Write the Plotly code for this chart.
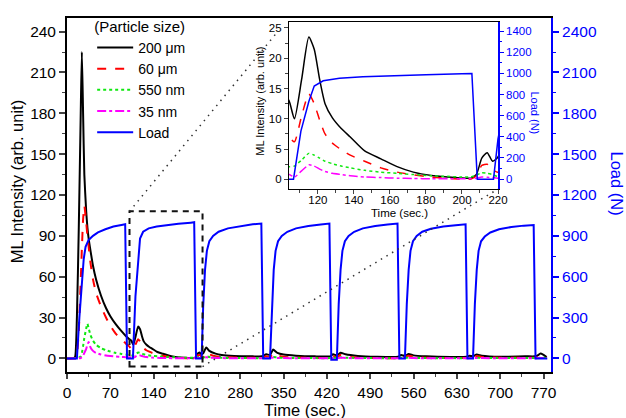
import plotly.graph_objects as go

# ---------------- data ----------------
t_ml = [0, 10, 13, 16, 19, 22, 24, 26, 28, 31,
        33, 35, 38, 42, 47, 55, 63, 70, 79, 88,
        95, 100, 104, 107, 111, 115, 118, 121, 124, 128,
        133, 138, 146, 155, 164, 173, 183, 192, 199, 205,
        208, 211, 214, 217, 220, 225, 230, 240, 250, 270,
        300, 315, 322, 328, 333, 340, 350, 370, 400, 425,
        430, 436, 442, 450, 470, 500, 535, 540, 546, 552,
        560, 580, 620, 646, 650, 656, 662, 670, 700, 740,
        756, 760, 765, 770, 775]

ml_200um = [0, 0, 1, 30, 95, 175, 225, 180, 135, 108,
            96, 88, 79, 68, 58, 46, 37, 31, 25, 20,
            16.5, 14.5, 13, 10, 16.5, 23.5, 21.5, 16.5, 12.5, 10.2,
            8.4, 7, 4.7, 3.4, 2.1, 1.2, 0.65, 0.4, 0.25, 0.2,
            0.8, 3.5, 4.4, 3, 3.7, 8, 5.5, 3.5, 2.5, 1.8,
            1.5, 1.5, 3, 2.5, 6.5, 4, 2.8, 2, 1.5, 1.5,
            3, 2, 4.2, 3, 1.8, 1.2, 1.2, 2.5, 1.8, 3.2,
            2.2, 1.5, 1, 1.2, 2, 1.5, 2.8, 2, 1.2, 1.5,
            1.5, 2, 3.5, 2.5, 1]

ml_60um = [0, 0, 0, 3, 20, 55, 80, 102, 112, 100,
           90, 82, 70, 58, 48, 38, 30, 24, 18, 14,
           11, 9, 7.1, 6.2, 10.5, 14.1, 12.5, 9.8, 7.5, 6,
           4.9, 4, 3, 1.9, 1.2, 0.75, 0.38, 0.17, 0.05, 0.05,
           0.6, 2.3, 2.5, 1.6, 1.2, 4.5, 3, 1.5, 1, 0.6,
           0.5, 0.5, 1.5, 1, 3.5, 2, 1.2, 0.6, 0.4, 0.4,
           1.5, 1, 2.5, 1.5, 0.5, 0.2, 0.2, 1.2, 1, 2,
           1.2, 0.5, 0.3, 0.3, 1, 0.8, 1.8, 1, 0.5, 0.5,
           0.5, 1, 2, 1.5, 0.5]

ml_550nm = [0, 0, 0, 0, 0.5, 1.5, 4, 9, 15, 22,
            25.5, 22, 17, 13, 10, 7.5, 6, 5, 4, 3.3,
            2.8, 2.4, 2.1, 2.2, 3.2, 4.3, 4, 3.5, 3, 2.6,
            2.2, 1.9, 1.5, 1.2, 1, 0.8, 0.6, 0.5, 0.4, 0.4,
            0.7, 1.1, 1, 0.8, 0.5, 1.5, 1, 0.6, 0.4, 0.3,
            0.2, 0.2, 0.5, 0.4, 1, 0.6, 0.4, 0.3, 0.2, 0.2,
            0.5, 0.4, 0.8, 0.5, 0.3, 0.2, 0.2, 0.4, 0.3, 0.6,
            0.4, 0.2, 0.2, 0.2, 0.4, 0.3, 0.5, 0.3, 0.2, 0.2,
            0.2, 0.3, 0.5, 0.4, 0.2]

ml_35nm = [0, 0, 0, 0, 0, 0.3, 1, 2, 4, 7,
           10, 12, 8, 5.5, 4, 2.8, 2.1, 1.7, 1.3, 1.1,
           0.9, 0.85, 0.8, 0.4, 1.4, 2.4, 2.2, 1.7, 1.3, 1,
           0.8, 0.6, 0.4, 0.3, 0.2, 0.15, 0.1, 0.1, 0.1, 0.1,
           0.2, 0.4, 0.35, 0.3, 0.2, 0.8, 0.5, 0.3, 0.2, 0.15,
           0.1, 0.1, 0.3, 0.2, 0.6, 0.3, 0.2, 0.1, 0.1, 0.1,
           0.3, 0.2, 0.5, 0.3, 0.1, 0.1, 0.1, 0.2, 0.2, 0.4,
           0.2, 0.1, 0.1, 0.1, 0.2, 0.2, 0.3, 0.2, 0.1, 0.1,
           0.1, 0.2, 0.3, 0.2, 0.1]

t_load = [0, 16, 20, 24, 27, 30, 35, 42, 50, 62, 75, 88, 94, 97,
          106.5, 110.6, 115, 118, 123, 132, 145, 160, 180, 200, 205.5, 208.5,
          217.5, 220, 223, 226, 230, 236, 245, 260, 280, 300, 314, 317,
          328, 331, 334, 337, 341, 347, 356, 370, 390, 410, 424, 427,
          436, 439, 442, 445, 449, 455, 464, 478, 498, 518, 534, 537,
          546, 549, 552, 555, 559, 565, 574, 588, 608, 628, 644, 647,
          656, 659, 662, 665, 669, 675, 684, 698, 718, 738, 754, 757, 776]
load_N = [0, 0, 300, 560, 730, 820, 870, 900, 925, 948, 968, 980, 985, 0,
          0, 455, 734, 880, 930, 955, 968, 978, 988, 997, 1000, 0,
          0, 380, 650, 790, 860, 900, 930, 955, 972, 985, 990, 0,
          0, 400, 650, 790, 860, 900, 930, 955, 972, 983, 990, -10,
          -10, 400, 650, 790, 860, 900, 930, 955, 972, 983, 990, 0,
          0, 400, 650, 790, 860, 900, 930, 952, 968, 978, 985, 0,
          0, 400, 650, 790, 860, 895, 925, 948, 965, 975, 980, 0, 0]

series_names = ["200 \u03bcm", "60 \u03bcm", "550 nm", "35 nm"]
series_vals = [ml_200um, ml_60um, ml_550nm, ml_35nm]
series_colors = ["#000000", "#ff0000", "#10e810", "#ff00ff"]
series_dash = ["solid", "dash", "dot", "dashdot"]

main_x_ticks = list(range(0, 771, 70))
main_y_ticks = list(range(0, 241, 30))
main_y2_ticks = list(range(0, 2401, 300))
inset_x_ticks = list(range(120, 221, 20))
inset_y_ticks = list(range(0, 26, 5))
inset_y2_ticks = list(range(0, 1401, 200))

# ---------------- figure ----------------
FONT = "Liberation Sans, Arial, sans-serif"
X_RANGE = [0, 782]
Y_RANGE = [-10, 250]
Y2_RANGE = [-100, 2500]
INSET_X = [0.4587, 0.8905]
INSET_Y = [0.5167, 0.9889]

fig = go.Figure()

for name, vals, col, dash in zip(series_names, series_vals, series_colors, series_dash):
    fig.add_trace(go.Scatter(x=t_ml, y=vals, name=name, mode="lines",
                             line=dict(color=col, width=2, dash=dash, shape="spline", smoothing=0.5),
                             xaxis="x", yaxis="y"))
fig.add_trace(go.Scatter(x=t_load, y=load_N, name="Load", mode="lines",
                         line=dict(color="#0000ff", width=2), xaxis="x", yaxis="y2"))

# inset traces (same data, zoomed)
for name, vals, col, dash in zip(series_names, series_vals, series_colors, series_dash):
    fig.add_trace(go.Scatter(x=t_ml, y=vals, name=name, mode="lines", showlegend=False,
                             line=dict(color=col, width=1.5, dash=dash, shape="spline", smoothing=0.6),
                             xaxis="x3", yaxis="y3"))
fig.add_trace(go.Scatter(x=t_load, y=load_N, name="Load", mode="lines", showlegend=False,
                         line=dict(color="#0000ff", width=1.5), xaxis="x3", yaxis="y4"))

tick_common = dict(ticks="outside", showgrid=False, zeroline=False, showline=True, automargin=False)

fig.update_layout(
    width=626, height=418,
    margin=dict(l=67, r=75, t=12, b=46),
    paper_bgcolor="white", plot_bgcolor="white",
    font=dict(family=FONT, size=15, color="black"),
    showlegend=True,
    legend=dict(x=0.052, y=1.016, xanchor="left", yanchor="top",
                bgcolor="rgba(0,0,0,0)", font=dict(size=14, family=FONT),
                title=dict(text="(Particle size)", font=dict(size=15, family=FONT)),
                itemwidth=36, tracegroupgap=0),
    xaxis=dict(domain=[0, 1], range=X_RANGE, tickvals=main_x_ticks, ticklen=5,
               linecolor="black", linewidth=1.8, mirror=True, tickwidth=1.5,
               tickfont=dict(size=15.5), minor=dict(ticks="outside", ticklen=3, dtick=35, tick0=0, tickwidth=1.2),
               anchor="y", **tick_common),
    yaxis=dict(domain=[0, 1], range=Y_RANGE, tickvals=main_y_ticks, ticklen=6,
               linecolor="black", linewidth=1.8, tickwidth=1.5,
               tickfont=dict(size=15.5), minor=dict(ticks="outside", ticklen=3, dtick=15, tick0=0, tickwidth=1.2),
               anchor="x", **tick_common),
    yaxis2=dict(range=Y2_RANGE, tickvals=main_y2_ticks, ticklen=6, overlaying="y", side="right",
                linecolor="#0000ff", linewidth=2, tickcolor="#0000ff", tickwidth=1.5,
                tickfont=dict(size=15.5, color="#0000ff"),
                minor=dict(ticks="outside", ticklen=3, dtick=150, tick0=0, tickcolor="#0000ff", tickwidth=1.2),
                anchor="x", **tick_common),
    xaxis3=dict(domain=INSET_X, range=[104, 220], tickvals=inset_x_ticks, ticklen=4,
                linecolor="black", linewidth=1.2, mirror=True, tickwidth=1,
                tickfont=dict(size=11.5), minor=dict(ticks="outside", ticklen=2.5, dtick=10, tick0=0),
                ticklabelstandoff=-4, anchor="y3", **tick_common),
    yaxis3=dict(domain=INSET_Y, range=[-1.6, 26], tickvals=inset_y_ticks, ticklen=4,
                linecolor="black", linewidth=1.2, tickwidth=1,
                tickfont=dict(size=11.5), minor=dict(ticks="outside", ticklen=2.5, dtick=2.5, tick0=0),
                anchor="x3", **tick_common),
    yaxis4=dict(range=[-94, 1487], tickvals=inset_y2_ticks, ticklen=4, overlaying="y3", side="right",
                linecolor="#0000ff", linewidth=1.5, tickcolor="#0000ff", tickwidth=1,
                tickfont=dict(size=11.5, color="#0000ff"),
                minor=dict(ticks="outside", ticklen=2.5, dtick=100, tick0=0, tickcolor="#0000ff"),
                anchor="x3", **tick_common),
)


def paper_to_main(px, py):
    return (X_RANGE[0] + px * (X_RANGE[1] - X_RANGE[0]),
            Y_RANGE[0] + py * (Y_RANGE[1] - Y_RANGE[0]))


box = dict(x0=101, x1=219, y0=-6, y1=108)
fig.add_shape(type="rect", xref="x", yref="y", x0=box["x0"], x1=box["x1"], y0=box["y0"], y1=box["y1"],
              line=dict(color="#111111", width=2, dash="6px,5px"), fillcolor="rgba(0,0,0,0)")

e1x, e1y = paper_to_main(INSET_X[0] - 0.025, INSET_Y[1] - 0.03)
e2x, e2y = paper_to_main(INSET_X[1], INSET_Y[0])
fig.add_shape(type="line", xref="x", yref="y", x0=box["x0"], y0=box["y1"], x1=e1x, y1=e1y,
              line=dict(color="#333333", width=1.5, dash="1.5px,5px"))
fig.add_shape(type="line", xref="x", yref="y", x0=box["x1"], y0=box["y0"], x1=e2x, y1=e2y,
              line=dict(color="#333333", width=1.5, dash="1.5px,5px"))


def ann(text, x, y, size, color="black", angle=0):
    fig.add_annotation(text=text, xref="paper", yref="paper", x=x, y=y,
                       xanchor="center", yanchor="middle", textangle=angle, showarrow=False,
                       font=dict(size=size, family=FONT, color=color))


ann("ML Intensity (arb. unit)", -0.103, 0.539, 16.5, angle=-90)
ann("Time (sec.)", 0.492, -0.108, 16.5)
ann("Load (N)", 1.136, 0.533, 16.5, color="#0000ff", angle=90)
ann("ML Intensity (arb. unit)", 0.397, 0.764, 11, angle=-90)
ann("Load (N)", 0.967, 0.733, 11, color="#0000ff", angle=90)
ann("Time (sec.)", 0.688, 0.45, 11.5)

fig.write_html("out.html", config={"displayModeBar": False},
               post_script="document.body.style.margin='0px';")
